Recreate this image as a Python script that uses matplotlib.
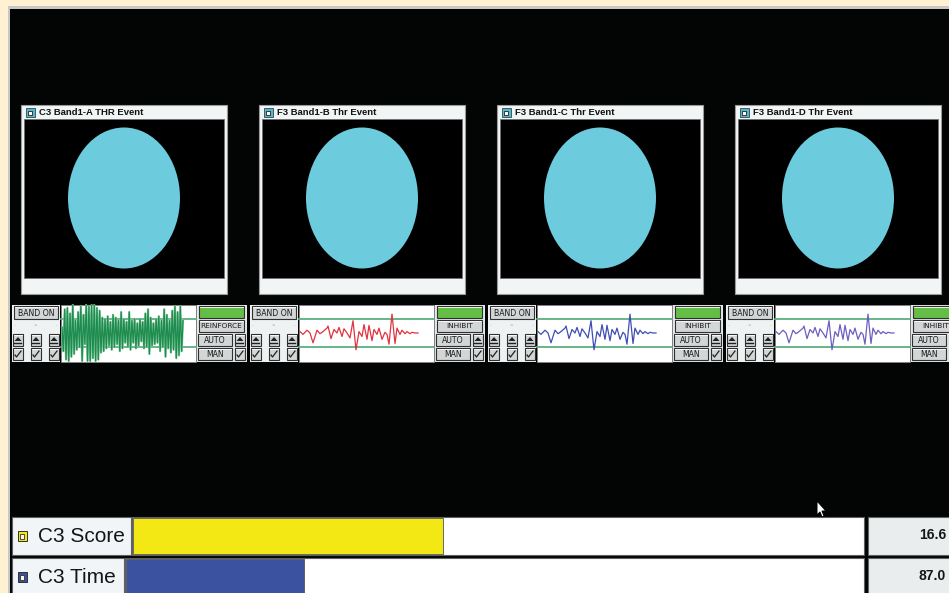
import numpy as np
import matplotlib.pyplot as plt
from matplotlib.patches import Rectangle, Ellipse, Polygon


# --- chart content ---
panel_titles = [
    "C3 Band1-A THR Event",
    "F3 Band1-B Thr Event",
    "F3 Band1-C Thr Event",
    "F3 Band1-D Thr Event",
]
mode_labels = ["REINFORCE", "INHIBIT", "INHIBIT", "INHIBIT"]

# trace samples, in threshold units (+-1 = the two green threshold lines)
theta_wave = [
    0.4, -1.3, 1.7, -1.9, 1.8, -2.0, 1.4, -1.7, 2.0, -1.5,
    0.9, -1.2, 1.5, -1.0, 1.9, -2.0, 1.3, -0.8,
    2.0, -2.0, 1.9, -2.0, 2.0, -1.8, 2.0, -2.0, 1.8, -1.9, 1.6, -1.4,
    1.1, -1.3, 1.0, -1.1, 1.2, -0.9, 0.8, -1.2, 1.3, -1.0,
    1.1, -0.8, 0.9, -1.3, 1.5, -1.1, 1.0, -0.7, 0.8, -1.0,
    1.5, -1.2, 0.9, -0.7, 1.0, -1.1, 0.7, -0.9, 1.0, -0.6,
    0.8, -1.1, 1.4, -1.0, 1.7, -1.5, 1.1, -0.9, 0.7, -0.8,
    1.0, -0.7, 1.2, -1.3, 0.9, -1.0, 1.7, -1.7, 1.3, -1.1,
    0.9, -1.4, 1.6, -1.2, 1.9, -1.8, 1.5, -1.6, 1.9, -1.3, 0.9,
]
# sample times (ms) and values of the beta-band trace
beta_t = [
    1, 4, 8, 11, 14, 18, 21, 24, 28, 29,
    32, 35, 38, 40, 43, 45, 48, 51, 54, 57,
    60, 63, 65, 68, 70, 73, 75, 78, 80, 83,
    86, 88, 90, 93, 96, 98, 101, 103, 106, 108,
    111, 113, 116, 119,
]
beta_wave = [
    0.1, -0.1, 0.2, 0.0, -0.7, 0.2, -0.05, 0.1, 0.35, 0.5,
    -0.4, 0.25, 0.0, 0.4, -0.25, 0.3, 0.0, -0.35, 0.88, -1.2,
    0.1, -0.25, 0.6, -0.45, 0.55, -0.55, 0.25, -0.1, 0.35, -0.45,
    0.05, -0.1, -0.8, 1.35, -0.75, 0.35, -0.1, 0.2, -0.05, 0.1,
    -0.05, 0.05, 0.0, 0.0,
]
trace_t = [np.linspace(1, 122, len(theta_wave)), beta_t, beta_t, beta_t]
traces = [theta_wave, beta_wave, beta_wave, beta_wave]

bar_labels = ["C3 Score", "C3 Time"]
bar_fill = [0.424, 0.242]
readouts = ["16.6", "87.0"]

# --- styles ---
wave_colors = ["#1E8C4E", "#E2323E", "#3E4EB2", "#6E5EC2"]
bar_colors = ["#F4E814", "#3A52A0"]
CREAM = "#FFF1D2"
PANEL = "#F2F5F5"
BTN = "#D2D6D6"
CYAN = "#6CCBDC"
UI_FONT = "DejaVu Sans"


def button(ax, x, y, w, h, label=None, fs=5.2, face=BTN):
    ax.add_patch(Rectangle((x, y), w, h, facecolor=face,
                           edgecolor="#303030", linewidth=0.8))
    ax.plot([x + 1, x + w - 1], [y + 1, y + 1], color="white", lw=0.6)
    if label:
        ax.text(x + w / 2, y + h / 2 + 0.5, label, ha="center", va="center",
                fontsize=fs, family=UI_FONT, color="#1A1A1A")


def up_button(ax, x, y):
    button(ax, x, y, 10, 12)
    cx, cy = x + 5, y + 6
    ax.add_patch(Polygon([(cx - 3.5, cy + 1), (cx + 3.5, cy + 1), (cx, cy - 3)],
                         closed=True, facecolor="#202020", edgecolor="none"))
    ax.plot([cx - 3.5, cx + 3.5], [cy + 3, cy + 3], color="#202020", lw=1.0)


def check_button(ax, x, y):
    button(ax, x, y, 10, 12)
    cx, cy = x + 5, y + 6
    ax.plot([cx - 3, cx - 1.5, cx + 3], [cy + 1, cy + 3, cy - 3],
            color="#202020", lw=0.9)


fig = plt.figure(figsize=(9.49, 5.93), dpi=100, facecolor=CREAM)
ax = fig.add_axes([0, 0, 1, 1])
ax.set_xlim(0, 949)
ax.set_ylim(593, 0)
ax.axis("off")

# window frame
ax.add_patch(Rectangle((8, 6), 941, 587, facecolor="#C8C8C8", edgecolor="none"))
ax.add_patch(Rectangle((10, 9), 939, 584, facecolor="#030404", edgecolor="none"))

for k in range(4):
    ox = 238 * k

    # event window
    ax.add_patch(Rectangle((21 + ox, 105), 206, 189, facecolor=PANEL,
                           edgecolor="#9A9A9A", linewidth=0.8))
    ax.add_patch(Rectangle((24 + ox, 119), 200, 159, facecolor="black",
                           edgecolor="#707070", linewidth=0.6))
    ax.add_patch(Rectangle((26 + ox, 108), 9, 9, facecolor="#5AB7C8",
                           edgecolor="#2A4A55", linewidth=0.6))
    ax.add_patch(Rectangle((28.5 + ox, 110.5), 4, 4, facecolor="white",
                           edgecolor="#202020", linewidth=0.6))
    ax.text(39 + ox, 112.5, panel_titles[k], ha="left", va="center",
            fontsize=6.8, family="Liberation Sans", fontweight="bold",
            color="#111111")
    ax.add_patch(Ellipse((124 + ox, 198), 112, 141, facecolor=CYAN,
                         edgecolor="none"))

    # control strip
    ax.add_patch(Rectangle((12 + ox, 305), 48, 57, facecolor="#EEF2F2",
                           edgecolor="none"))
    button(ax, 14 + ox, 306, 44, 13, "BAND ON", fs=5.6)
    for mx, mark in zip([15, 35, 57], ["-", "=", "-"]):
        ax.text(mx + ox, 325, mark, ha="center", va="center", fontsize=3,
                color="#909090", family=UI_FONT)
    for bx in [13, 31, 49]:
        up_button(ax, bx + ox, 334)
        check_button(ax, bx + ox, 348)

    # trace box
    ax.add_patch(Rectangle((61 + ox, 305), 135, 57, facecolor="white",
                           edgecolor="#808080", linewidth=0.6))
    for ly in [319, 347]:
        ax.plot([61 + ox, 196 + ox], [ly, ly], color="#5DAF80", lw=1.3)
    xs = 61 + ox + np.array(trace_t[k])
    ys = 333 - np.array(traces[k]) * 14
    if k == 0:
        ax.plot(xs, ys, color="#8ACCA3", lw=1.6)
    ax.plot(xs, ys, color=wave_colors[k], lw=0.9)

    # right-hand buttons
    ax.add_patch(Rectangle((197 + ox, 305), 50, 57, facecolor="#E4E8E8",
                           edgecolor="none"))
    button(ax, 199 + ox, 306, 45, 12, face="#64BE46")
    button(ax, 199 + ox, 320, 45, 12, mode_labels[k], fs=5.3)
    button(ax, 198 + ox, 334, 34, 12, "AUTO", fs=5.6)
    button(ax, 198 + ox, 348, 34, 12, "MAN", fs=5.6)
    up_button(ax, 235 + ox, 334)
    check_button(ax, 235 + ox, 348)

# score / time bars
rows = [(517, 38, 131), (558, 36, 124)]
for (top, h, label_w), label, frac, col, val in zip(rows, bar_labels, bar_fill,
                                                     bar_colors, readouts):
    ax.add_patch(Rectangle((12, top), label_w - 12, h, facecolor="#F2F5F7",
                           edgecolor="#606060", linewidth=0.8))
    ax.add_patch(Rectangle((18, top + 14), 9, 10, facecolor=col,
                           edgecolor="#303030", linewidth=0.7))
    ax.add_patch(Rectangle((20.5, top + 16.5), 4, 5, facecolor="#F8F8E0",
                           edgecolor="#303030", linewidth=0.6))
    ax.text(38, top + 19.5, label, ha="left", va="center", fontsize=15,
            family="Liberation Sans", color="#151515")
    bx0, bx1 = label_w + 1, 864
    ax.add_patch(Rectangle((bx0, top), bx1 - bx0, h, facecolor="white",
                           edgecolor="#606060", linewidth=0.8))
    ax.add_patch(Rectangle((bx0 + 1, top + 1), (bx1 - bx0 - 2) * frac, h - 2,
                           facecolor=col, edgecolor="#555555", linewidth=0.6))
    ax.add_patch(Rectangle((868, top), 90, h, facecolor="#E9EDED",
                           edgecolor="#606060", linewidth=0.8))
    ax.text(946, top + 18, val, ha="right", va="center", fontsize=10,
            family="Liberation Sans", fontweight="bold", color="#151515")

# mouse pointer
tip = np.array([817, 501])
arrow = tip + np.array([(0, 0), (0, 14), (3, 11), (5, 16), (7, 15), (5, 10), (9, 10)])
ax.add_patch(Polygon(arrow, closed=True, facecolor="white", edgecolor="black",
                     linewidth=0.7))

plt.savefig("out.png", dpi=100, facecolor=CREAM)
plt.close()
